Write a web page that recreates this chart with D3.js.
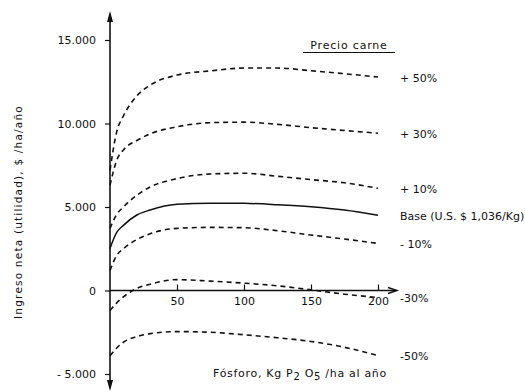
<!DOCTYPE html>
<html>
<head>
<meta charset="utf-8">
<script src="https://cdn.jsdelivr.net/npm/d3@7"></script>
<style>
  html, body { margin: 0; padding: 0; background: #fff; }
  svg { display: block; }
  text { font-family: "DejaVu Sans", "Liberation Sans", sans-serif; fill: #111; }
</style>
</head>
<body>
<svg id="chart" width="525" height="392"></svg>
<script>
// Phosphorus applied, kg P2O5 / ha / year
const phosphorus = [0, 5, 10, 20, 30, 50, 75, 100, 125, 150, 175, 200];

// Net income ($/ha/year) for each beef price scenario
const plus50  = [7200, 9500, 10450, 11650, 12300, 12900, 13150, 13320, 13320, 13160, 12980, 12780];
const plus30  = [6300, 7800, 8420, 8980, 9380, 9800, 10050, 10080, 9950, 9750, 9580, 9420];
const plus10  = [3720, 4560, 5000, 5700, 6200, 6700, 6980, 7020, 6840, 6640, 6450, 6120];
const base    = [2520, 3480, 3900, 4520, 4820, 5160, 5230, 5220, 5140, 5020, 4820, 4500];
const minus10 = [1200, 2100, 2500, 3050, 3400, 3720, 3780, 3760, 3580, 3320, 3080, 2820];
const minus30 = [-1200, -740, -380, 120, 380, 650, 560, 440, 280, 40, -220, -420];
const minus50 = [-3900, -3440, -3100, -2760, -2580, -2460, -2500, -2650, -2830, -3050, -3400, -3900];

const seriesNames = ["+ 50%", "+ 30%", "+ 10%", "Base (U.S. $ 1,036/Kg)", "- 10%", "-30%", "-50%"];
const seriesValues = [plus50, plus30, plus10, base, minus10, minus30, minus50];
const solidSeries = ["Base (U.S. $ 1,036/Kg)"];

const yTickValues = [15000, 10000, 5000, 0, -5000];
const yTickLabels = ["15.000", "10.000", "5.000", "0", "- 5.000"];
const xTickValues = [50, 100, 150, 200];
const xTickLabels = ["50", "100", "150", "200"];

const legendTitle = "Precio carne";
const yTitle = "Ingreso  neta  (utilidad),  $ /ha/año";

const svg = d3.select("#chart");

const x = d3.scaleLinear().domain([0, 200]).range([110, 378]);
const y = d3.scaleLinear().domain([-5000, 15000]).range([374, 40]);

const ink = "#111";

// Y axis with ticks on the left
const yAxis = d3.axisLeft(y)
  .tickValues(yTickValues)
  .tickFormat((d, i) => yTickLabels[i])
  .tickSizeInner(5).tickSizeOuter(0).tickPadding(9);
const gy = svg.append("g").attr("transform", `translate(${x(0)},0)`).call(yAxis);
gy.select(".domain").remove();
gy.selectAll(".tick line").attr("stroke", ink).attr("stroke-width", 1.2);
gy.selectAll(".tick text").style("font-size", "11px").attr("fill", ink);

// X axis: ticks pointing up, labels below
const xAxis = d3.axisBottom(x)
  .tickValues(xTickValues)
  .tickFormat((d, i) => xTickLabels[i])
  .tickSizeInner(-6).tickSizeOuter(0).tickPadding(7);
const gx = svg.append("g").attr("transform", `translate(0,${y(0)})`).call(xAxis);
gx.select(".domain").remove();
gx.selectAll(".tick line").attr("stroke", ink).attr("stroke-width", 1.2);
gx.selectAll(".tick text").style("font-size", "11px").attr("fill", ink);

// Axis lines with arrowheads
const x0 = x(0), y0 = y(0);
svg.append("line").attr("x1", x0).attr("x2", x0).attr("y1", 14).attr("y2", 388)
  .attr("stroke", ink).attr("stroke-width", 1.6);
svg.append("path").attr("d", `M${x0},11 L${x0 - 3},22 L${x0 + 3},22 Z`).attr("fill", ink);
svg.append("path").attr("d", `M${x0},391 L${x0 - 3},380 L${x0 + 3},380 Z`).attr("fill", ink);
svg.append("line").attr("x1", x0).attr("x2", 396).attr("y1", y0).attr("y2", y0)
  .attr("stroke", ink).attr("stroke-width", 1.6);
svg.append("path").attr("d", `M388,${y0 - 3} L397,${y0} L388,${y0 + 3}`)
  .attr("fill", "none").attr("stroke", ink).attr("stroke-width", 1.4);

// Curves
const line = d3.line()
  .x((d, i) => x(phosphorus[i]))
  .y(d => y(d))
  .curve(d3.curveMonotoneX);

seriesNames.forEach((name, k) => {
  const vals = seriesValues[k];
  const solid = solidSeries.includes(name);
  svg.append("path")
    .datum(vals)
    .attr("d", line)
    .attr("fill", "none")
    .attr("stroke", ink)
    .attr("stroke-width", solid ? 1.5 : 1.6)
    .attr("stroke-dasharray", solid ? null : "5,4");
  svg.append("text")
    .attr("x", 400)
    .attr("y", y(vals[vals.length - 1]) + 1)
    .attr("dy", "0.35em")
    .style("font-size", "11px")
    .text(name);
});

// Legend title, underlined
svg.append("text").attr("x", 349).attr("y", 49).attr("text-anchor", "middle")
  .style("font-size", "11px").style("letter-spacing", "0.8px").text(legendTitle);
svg.append("line").attr("x1", 303).attr("x2", 395).attr("y1", 52.5).attr("y2", 52.5)
  .attr("stroke", ink).attr("stroke-width", 1.2);

// X axis title with subscripts
const xt = svg.append("text").attr("x", 213).attr("y", 377)
  .style("font-size", "11px").style("letter-spacing", "0.7px");
xt.append("tspan").text("Fósforo, Kg  P");
xt.append("tspan").attr("dy", 3).style("font-size", "10px").text("2");
xt.append("tspan").attr("dy", -3).text(" O");
xt.append("tspan").attr("dy", 3).style("font-size", "10px").text("5");
xt.append("tspan").attr("dy", -3).text(" /ha al año");

// Y axis title, rotated
svg.append("text")
  .attr("transform", "translate(22,212) rotate(-90)")
  .attr("text-anchor", "middle")
  .style("font-size", "10.5px")
  .style("letter-spacing", "1.2px")
  .text(yTitle);
</script>
</body>
</html>
